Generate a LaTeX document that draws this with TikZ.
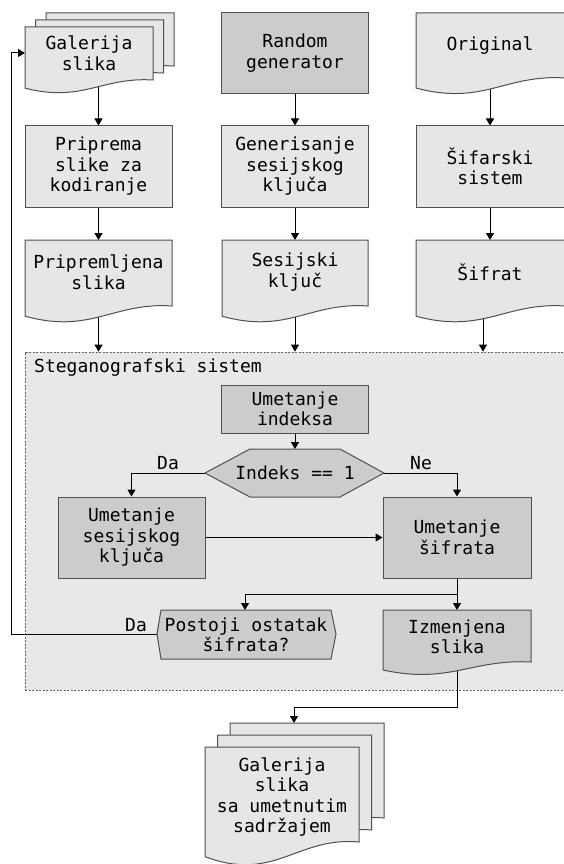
\documentclass[tikz,border=0pt]{standalone}
\usepackage{fontspec}
\setmainfont{DejaVu Sans Mono}
\usetikzlibrary{arrows.meta}
\definecolor{lightfill}{RGB}{230,230,230}
\definecolor{darkfill}{RGB}{204,204,204}
\definecolor{regionfill}{RGB}{232,232,232}
\definecolor{bordercol}{RGB}{80,80,80}
\definecolor{dashcol}{RGB}{100,100,100}
\pgfdeclarelayer{back}
\pgfdeclarelayer{conn}
\pgfsetlayers{back,conn,main}
% document shape: #1 style, (#2,#3) top-left, #4 right x, #5 y of right bottom corner
\newcommand{\docshape}[5]{%
  \filldraw[#1] (#2,#3) -- (#4,#3) -- (#4,#5)
    .. controls ({#4-0.4*(#4-#2)},{#5-0.0616*(#5-#3)}) and ({#2+0.45*(#4-#2)},{#5+0.4312*(#5-#3)}) .. (#2,{#5+0.154*(#5-#3)}) -- cycle;}
\tikzset{
  shapeline/.style={draw=bordercol, line width=1pt},
  lightshape/.style={shapeline, fill=lightfill},
  darkshape/.style={shapeline, fill=darkfill},
  txt/.style={font=\fontsize{18}{20.5}\selectfont, align=center, inner sep=0pt, text=black},
  procbox/.style={txt, shapeline, minimum width=147pt, minimum height=81pt},
  arr/.style={draw=black, line width=1pt, -{Triangle[length=7pt,width=8pt]}},
  region/.style={draw=dashcol, line width=0.7pt, dash pattern=on 2pt off 1.5pt, fill=regionfill, minimum width=541pt, minimum height=338pt, inner sep=0pt}
}
\begin{document}
\begin{tikzpicture}[x=1pt,y=-1pt]
\useasboundingbox (0,0) rectangle (563,864);

% ---------- region ----------
\begin{pgfonlayer}{back}
\node[region] (steg) at (295.5,521) {};
\end{pgfonlayer}
\node[txt, anchor=west] (stegl) at (34,368) {Steganografski sistem};

% ---------- top row ----------
\docshape{lightshape}{46}{13}{174}{66}
\docshape{lightshape}{35.5}{20}{163.5}{73}
\docshape{lightshape}{25}{27}{153}{80}
\node[txt] (gal) at (89,53) {Galerija\\slika};
\coordinate (galL) at (25,53);

\node[procbox, fill=darkfill] (rand) at (295,53) {Random\\generator};

\docshape{lightshape}{416}{13}{565}{78}
\node[txt] (orig) at (490,46) {Original};

% ---------- second row ----------
\node[procbox, fill=lightfill] (prip) at (98.5,166.5) {Priprema\\slike za\\kodiranje};
\node[procbox, fill=lightfill] (gen) at (295,166.5) {Generisanje\\sesijskog\\klju\v{c}a};
\node[procbox, fill=lightfill, minimum width=148pt] (sif) at (490,166.5) {\v{S}ifarski\\sistem};

% ---------- third row ----------
\docshape{lightshape}{25}{240}{172}{306}
\node[txt] (pripsl) at (98.5,272) {Pripremljena\\slika};
\coordinate (pripslT) at (98.5,240);
\docshape{lightshape}{222}{240}{368}{306}
\node[txt] (seskl) at (295,272) {Sesijski\\klju\v{c}};
\coordinate (sesklT) at (295,240);
\docshape{lightshape}{416}{240}{565}{306}
\node[txt] (sifrat) at (490,272) {\v{S}ifrat};
\coordinate (sifratT) at (490,240);

% ---------- inside region ----------
\node[procbox, fill=darkfill, minimum height=48pt] (uind) at (295,409) {Umetanje\\indeksa};

\filldraw[darkshape] (205,473) -- (250,449) -- (340,449) -- (384,473) -- (340,497) -- (250,497) -- cycle;
\node[txt] (hex) at (295,473) {Indeks == 1};
\coordinate (hexL) at (205,473);
\coordinate (hexR) at (384,473);
\coordinate (hexT) at (295,449);
\node[txt] (da1) at (168,463) {Da};
\node[txt] (ne1) at (421,463) {Ne};

\node[procbox, fill=darkfill] (usk) at (131.5,537.5) {Umetanje\\sesijskog\\klju\v{c}a};
\node[procbox, fill=darkfill, minimum width=148pt] (usf) at (457,537.5) {Umetanje\\\v{s}ifrata};

\filldraw[darkshape] (157,634) -- (161,610) -- (331,610) -- (336,634) -- (331,659) -- (161,659) -- cycle;
\node[txt] (post) at (246,635) {Postoji ostatak\\\v{s}ifrata?};
\coordinate (postL) at (157,634);
\coordinate (postT) at (245,610);
\node[txt] (da2) at (136,625) {Da};

\docshape{darkshape}{383}{610}{531}{662}
\node[txt] (izm) at (457,637) {Izmenjena\\slika};
\coordinate (izmT) at (457,610);

% ---------- bottom stack ----------
\docshape{lightshape}{230}{723}{384}{818}
\docshape{lightshape}{217.5}{735}{371.5}{830}
\docshape{lightshape}{205}{747}{359}{842}
\node[txt] (galout) at (282,797) {Galerija\\slika\\sa umetnutim\\sadr\v{z}ajem};
\coordinate (galoutT) at (294,723);

% ---------- helper coordinates ----------
\coordinate (split) at (457,594);
\coordinate (loopc) at (11,634);
\coordinate (bend) at (457,707);

% ---------- connectors ----------
\begin{pgfonlayer}{conn}
\draw[arr] (prip.north |- gal.south) -- (prip.north);
\draw[arr] (rand.south) -- (gen.north);
\draw[arr] (sif.north |- orig.south) -- (sif.north);
\draw[arr] (prip.south) -- (pripslT);
\draw[arr] (gen.south) -- (sesklT);
\draw[arr] (sif.south) -- (sifratT);
\draw[arr] (pripsl) -- (pripsl |- steg.north);
\draw[arr] (seskl) -- (seskl |- steg.north);
\draw[arr] ([xshift=-7pt]sifrat.south) -- ([xshift=-7pt]sifrat.south |- steg.north);
\draw[arr] (uind.south) -- (hexT);
\draw[arr] (hexL) -| (usk.north);
\draw[arr] (hexR) -| (usf.north);
\draw[arr] (usk.east) -- (usf.west);
\draw[arr] (usf.south) -- (izmT);
\draw[arr] (split) -| (postT);
\draw[arr] (postL) -- (loopc) |- (galL);
\draw[arr] (izm) -- (bend) -| (galoutT);
\end{pgfonlayer}
\end{tikzpicture}
\end{document}
